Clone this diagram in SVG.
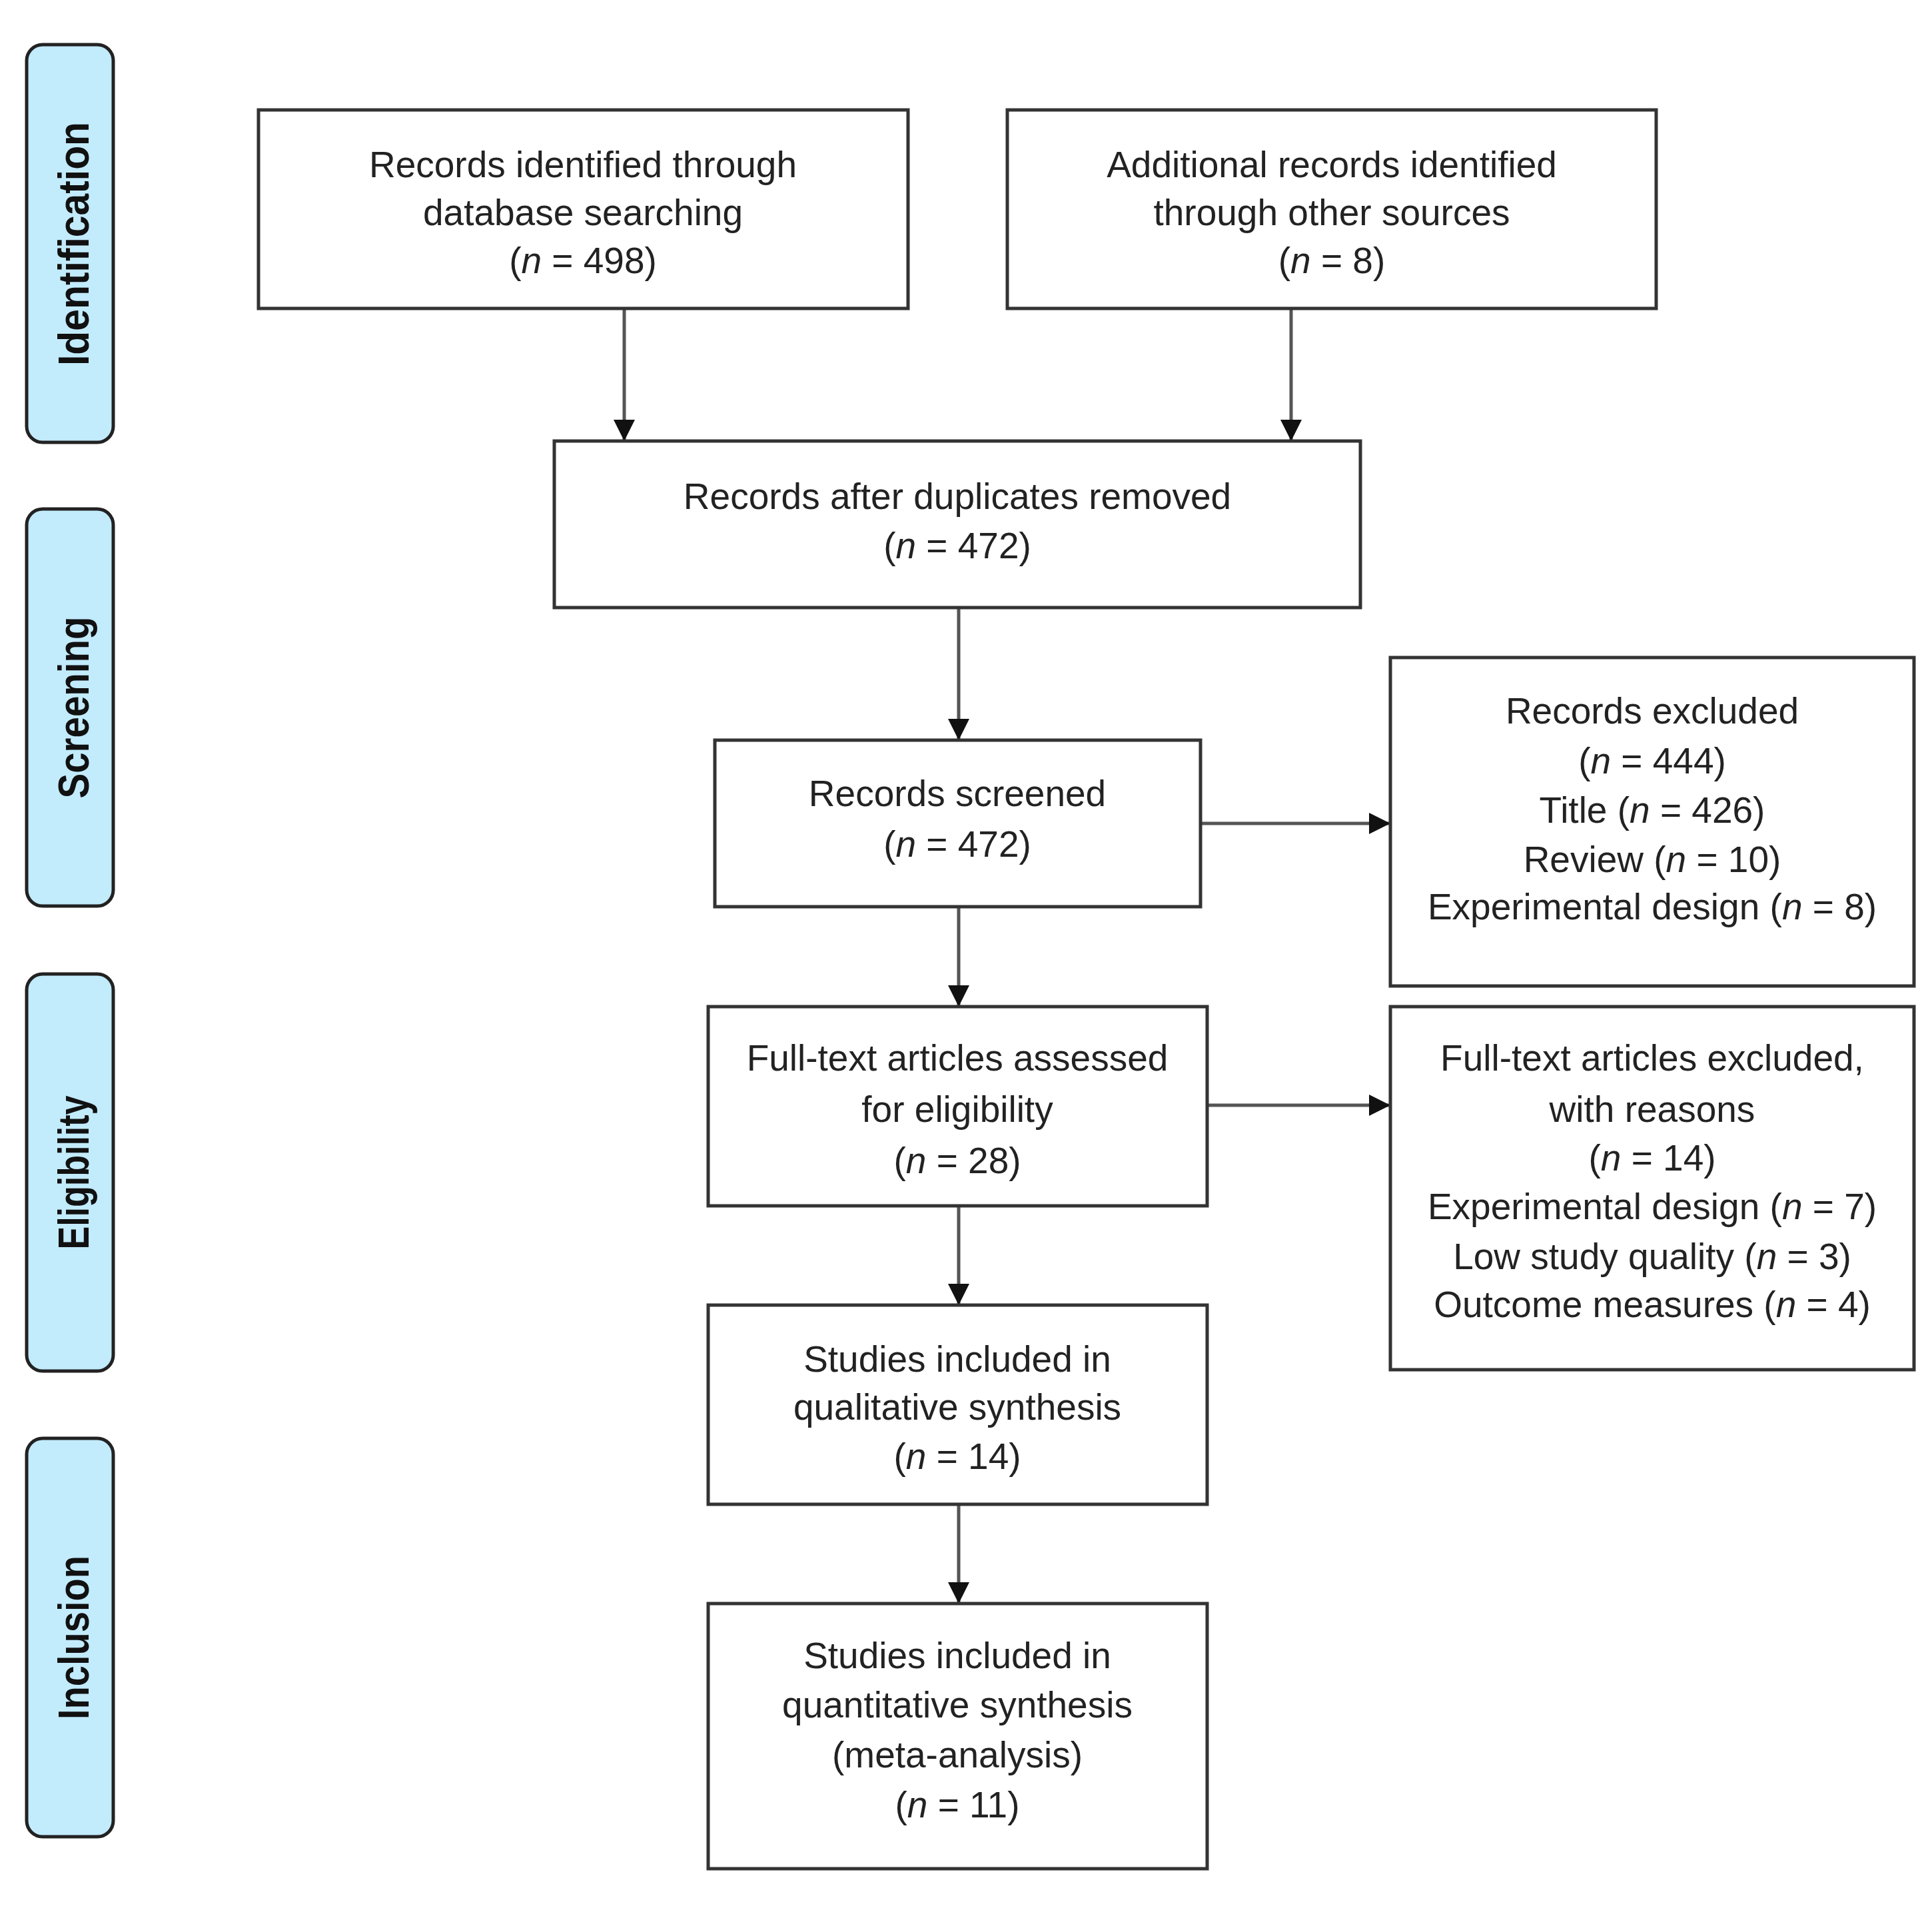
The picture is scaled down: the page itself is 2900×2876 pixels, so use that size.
<svg xmlns="http://www.w3.org/2000/svg" width="2900" height="2876" viewBox="0 0 2900 2876">
<style>
.box{fill:#fff;stroke:#333;stroke-width:5}
.lab{fill:#C2EBFC;stroke:#222;stroke-width:5}
.t{font-family:"Liberation Sans",Arial,sans-serif;font-size:55px;fill:#222;text-anchor:middle}
.lt{font-family:"Liberation Sans",Arial,sans-serif;font-size:64px;font-weight:bold;fill:#111;text-anchor:middle}
.i{font-style:italic}
.c{stroke:#555;stroke-width:5;fill:none;marker-end:url(#ah)}
</style>
<defs>
<marker id="ah" viewBox="0 0 10 10" refX="10" refY="5" markerWidth="6.4" markerHeight="6.4" markerUnits="strokeWidth" orient="auto">
<path d="M0,0 L10,5 L0,10 Z" fill="#111"/>
</marker>
</defs>
<rect width="2900" height="2876" fill="#fff"/>

<g id="label-identification">
<rect class="lab" x="40" y="67" width="130" height="597" rx="24"/>
<text class="lt" x="133" y="366" transform="rotate(-90 133 366)" textLength="366" lengthAdjust="spacingAndGlyphs">Identification</text>
</g>
<g id="label-screening">
<rect class="lab" x="40" y="764" width="130" height="596" rx="24"/>
<text class="lt" x="133" y="1062" transform="rotate(-90 133 1062)" textLength="273" lengthAdjust="spacingAndGlyphs">Screening</text>
</g>
<g id="label-eligibility">
<rect class="lab" x="40" y="1462" width="130" height="596" rx="24"/>
<text class="lt" x="133" y="1760" transform="rotate(-90 133 1760)" textLength="231" lengthAdjust="spacingAndGlyphs">Eligibility</text>
</g>
<g id="label-inclusion">
<rect class="lab" x="40" y="2159" width="130" height="598" rx="24"/>
<text class="lt" x="133" y="2458" transform="rotate(-90 133 2458)" textLength="246" lengthAdjust="spacingAndGlyphs">Inclusion</text>
</g>

<g id="connectors">
<line class="c" x1="937" y1="463" x2="937" y2="662"/>
<line class="c" x1="1938" y1="463" x2="1938" y2="662"/>
<line class="c" x1="1439" y1="912" x2="1439" y2="1111"/>
<line class="c" x1="1439" y1="1361" x2="1439" y2="1511"/>
<line class="c" x1="1439" y1="1810" x2="1439" y2="1959"/>
<line class="c" x1="1439" y1="2258" x2="1439" y2="2407"/>
<line class="c" x1="1802" y1="1236" x2="2087" y2="1236"/>
<line class="c" x1="1812" y1="1659" x2="2087" y2="1659"/>
</g>

<g id="box-database">
<rect class="box" x="388" y="165" width="975" height="298"/>
<text class="t" x="875" y="266">Records identified through</text>
<text class="t" x="875" y="338">database searching</text>
<text class="t" x="875" y="410">(<tspan class="i">n</tspan> = 498)</text>
</g>
<g id="box-other">
<rect class="box" x="1512" y="165" width="974" height="298"/>
<text class="t" x="1999" y="266">Additional records identified</text>
<text class="t" x="1999" y="338">through other sources</text>
<text class="t" x="1999" y="410">(<tspan class="i">n</tspan> = 8)</text>
</g>
<g id="box-duplicates">
<rect class="box" x="832" y="662" width="1210" height="250"/>
<text class="t" x="1437" y="764">Records after duplicates removed</text>
<text class="t" x="1437" y="838">(<tspan class="i">n</tspan> = 472)</text>
</g>
<g id="box-screened">
<rect class="box" x="1073" y="1111" width="729" height="250"/>
<text class="t" x="1437" y="1210">Records screened</text>
<text class="t" x="1437" y="1286">(<tspan class="i">n</tspan> = 472)</text>
</g>
<g id="box-excluded">
<rect class="box" x="2087" y="987" width="786" height="493"/>
<text class="t" x="2480" y="1086">Records excluded</text>
<text class="t" x="2480" y="1161">(<tspan class="i">n</tspan> = 444)</text>
<text class="t" x="2480" y="1235">Title (<tspan class="i">n</tspan> = 426)</text>
<text class="t" x="2480" y="1309">Review (<tspan class="i">n</tspan> = 10)</text>
<text class="t" x="2480" y="1380">Experimental design (<tspan class="i">n</tspan> = 8)</text>
</g>
<g id="box-fulltext">
<rect class="box" x="1063" y="1511" width="749" height="299"/>
<text class="t" x="1437" y="1607">Full-text articles assessed</text>
<text class="t" x="1437" y="1684">for eligibility</text>
<text class="t" x="1437" y="1761">(<tspan class="i">n</tspan> = 28)</text>
</g>
<g id="box-fulltext-excluded">
<rect class="box" x="2087" y="1511" width="786" height="545"/>
<text class="t" x="2480" y="1607">Full-text articles excluded,</text>
<text class="t" x="2480" y="1684">with reasons</text>
<text class="t" x="2480" y="1757">(<tspan class="i">n</tspan> = 14)</text>
<text class="t" x="2480" y="1830">Experimental design (<tspan class="i">n</tspan> = 7)</text>
<text class="t" x="2480" y="1905">Low study quality (<tspan class="i">n</tspan> = 3)</text>
<text class="t" x="2480" y="1977">Outcome measures (<tspan class="i">n</tspan> = 4)</text>
</g>
<g id="box-qualitative">
<rect class="box" x="1063" y="1959" width="749" height="299"/>
<text class="t" x="1437" y="2059">Studies included in</text>
<text class="t" x="1437" y="2131">qualitative synthesis</text>
<text class="t" x="1437" y="2205">(<tspan class="i">n</tspan> = 14)</text>
</g>
<g id="box-quantitative">
<rect class="box" x="1063" y="2407" width="749" height="398"/>
<text class="t" x="1437" y="2504">Studies included in</text>
<text class="t" x="1437" y="2578">quantitative synthesis</text>
<text class="t" x="1437" y="2653">(meta-analysis)</text>
<text class="t" x="1437" y="2728">(<tspan class="i">n</tspan> = 11)</text>
</g>
</svg>
